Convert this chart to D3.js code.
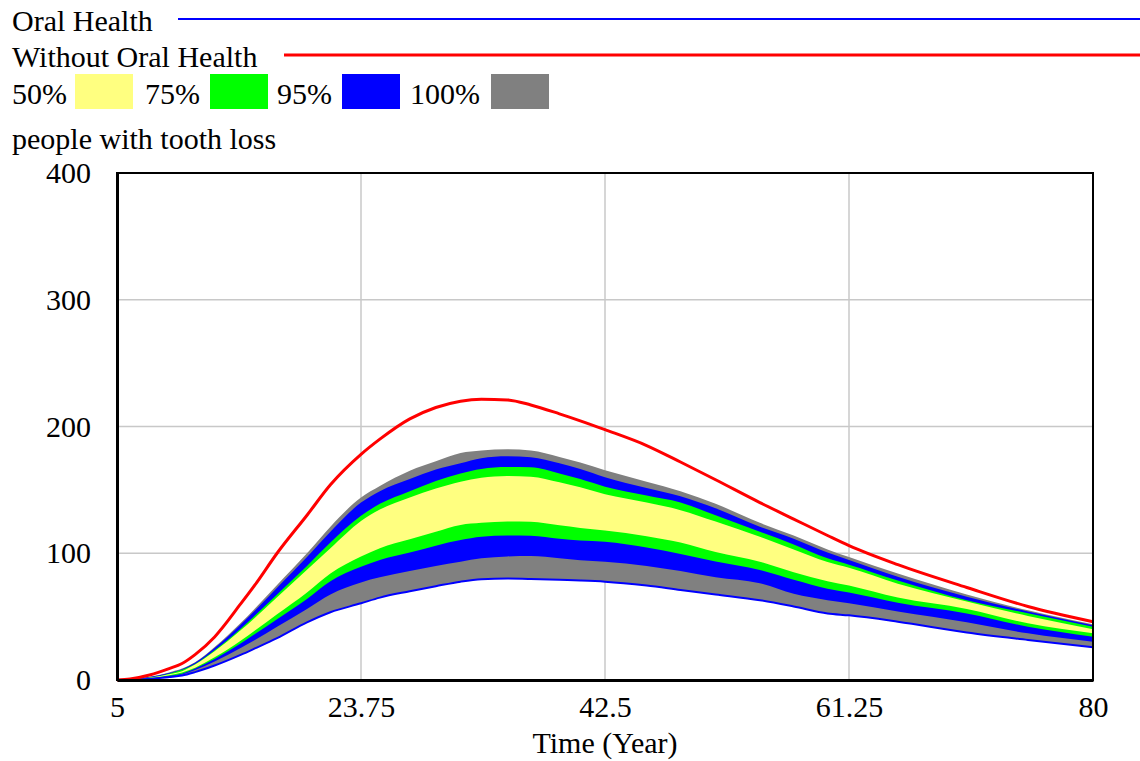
<!DOCTYPE html>
<html>
<head>
<meta charset="utf-8">
<script src="https://cdn.jsdelivr.net/npm/d3@7"></script>
<style>
  body { margin: 0; background: #fff; }
  svg text { fill: #000; }
</style>
</head>
<body>
<div id="vis"></div>
<script>
// data (people with tooth loss)
const YEARS = [5, 6, 7.5, 9, 10, 11, 12.5, 14.5, 15.6, 17.3, 19.6, 21.4, 23.75, 25.2, 27.5, 29.5, 31.4, 33, 35, 36.8,
               39, 40.6, 42.5, 45.7, 48.3, 51, 54.4, 57, 59.6, 61.25, 65, 70.3, 75, 80];

// "Without Oral Health" run
const WITHOUT_ORAL = [0, 0.8, 4, 9, 13, 20, 34, 60, 75, 100, 130, 154, 178, 190, 206, 215, 220, 221.5, 221, 217,
                      210, 204.5, 197.5, 185, 172, 158, 140, 127, 114, 106, 91, 73, 58, 46];

// confidence bounds (hi / lo)
const GRAY_HI = [0, 0.5, 2.5, 6, 9, 14, 26, 45, 56.5, 75, 100, 121, 144, 153, 165, 172.5, 179, 181, 182, 181,
                 176, 171.5, 165.5, 156.5, 149, 139, 124, 114, 103, 97, 84, 67.5, 55, 44];
const BLUE_HI = [0, 0.5, 2.3, 5.5, 8.5, 13.6, 25.2, 43.7, 54.8, 72.8, 97, 117, 140, 149, 158.5, 166, 171, 175, 176.5, 175.7,
                 171, 166.5, 160, 151.5, 145, 135.5, 121, 111.5, 100.5, 94.7, 81.5, 65.7, 54, 43.1];
const GREEN_HI = [0, 0.4, 2, 5, 8, 12.6, 23.4, 40.5, 50.9, 67.5, 90, 108.5, 129.5, 139, 149, 157, 163, 166.5, 168, 167.8,
                  163, 158.5, 152.5, 145.5, 140, 130, 117, 107, 96, 91, 78.5, 63, 52.6, 42];
const YELLOW_HI = [0, 0.3, 1.8, 4.5, 7, 12.2, 22.6, 39.2, 49.2, 65.3, 87, 104, 125.5, 134.5, 144, 151, 156.5, 159.5, 161, 160.4,
                   156, 152, 146.5, 140, 134, 125, 113, 103, 93, 88.5, 76, 62, 50.5, 40];
const YELLOW_LO = [0, 0.3, 1.5, 3.8, 6, 9.7, 17.9, 31, 39, 51.8, 69, 84, 97.4, 104, 111, 117, 122.3, 124, 125, 124.9,
                   122, 120, 118, 113.5, 108.5, 101, 93.3, 85, 78, 74.5, 65, 56, 44.7, 36.8];
const GREEN_LO = [0, 0.3, 1.3, 3.3, 5, 9, 16.6, 28.8, 36.2, 48, 64, 78, 89.4, 94.7, 100.5, 106, 110.4, 113, 114, 113.9,
                  111.5, 110, 109, 104.5, 99.5, 93.5, 86.8, 79, 72, 69, 61, 52.5, 42, 34.2];
const BLUE_LO = [0, 0.2, 1, 2.8, 4.3, 7.8, 14.6, 25.2, 31.6, 42, 56, 67.5, 77, 81, 86, 90, 93.3, 96, 97.5, 97.8,
                 96, 94.5, 93.3, 90, 86, 81, 76.3, 68, 63, 60.5, 54, 45.5, 36.8, 30.2];
// lower edge of the 100% band is the "Oral Health" run
const ORAL = [0, 0.1, 0.8, 2.3, 3.5, 6.2, 11.4, 19.8, 24.9, 33, 45.5, 53.5, 60.5, 65, 70, 74, 77.6, 79.5, 80, 79.7,
              79, 78.5, 77.6, 74.5, 71, 67.5, 63, 58, 52.5, 51, 46, 37.5, 31.6, 25.8];

const X_TICKS = [5, 23.75, 42.5, 61.25, 80];
const Y_TICKS = [0, 100, 200, 300, 400];

const BANDS = [
  {label: "50%", color: "#ffff80", lo: YELLOW_LO, hi: YELLOW_HI},
  {label: "75%", color: "#00ff00", lo: GREEN_LO, hi: GREEN_HI},
  {label: "95%", color: "#0000ff", lo: BLUE_LO, hi: BLUE_HI},
  {label: "100%", color: "#808080", lo: ORAL, hi: GRAY_HI}
];

// frame
const FRAME_WIDTH = 1140;
const FRAME_HEIGHT = 761;
const MARGINS = {left: 117, right: 47, top: 173, bottom: 81};
const VIS_WIDTH = FRAME_WIDTH - MARGINS.left - MARGINS.right;
const VIS_HEIGHT = FRAME_HEIGHT - MARGINS.top - MARGINS.bottom;
const FONT = 30;
const SERIF = "Times New Roman, Liberation Serif, Tinos, DejaVu Serif, serif";

const FRAME = d3.select("#vis")
                .append("svg")
                  .attr("width", FRAME_WIDTH)
                  .attr("height", FRAME_HEIGHT)
                  .attr("font-family", SERIF);

const X_SCALE = d3.scaleLinear().domain([5, 80]).range([MARGINS.left, MARGINS.left + VIS_WIDTH]);
const Y_SCALE = d3.scaleLinear().domain([0, 400]).range([MARGINS.top + VIS_HEIGHT, MARGINS.top]);

function label(x, y, str) {
  return FRAME.append("text").attr("x", x).attr("y", y)
              .attr("font-family", SERIF).attr("font-size", FONT).text(str);
}

// legend: run lines
label(12, 31, "Oral Health");
FRAME.append("line").attr("x1", 178).attr("x2", FRAME_WIDTH).attr("y1", 19).attr("y2", 19)
     .attr("stroke", "#0000ff").attr("stroke-width", 2);
label(12, 67, "Without Oral Health");
FRAME.append("line").attr("x1", 284).attr("x2", FRAME_WIDTH).attr("y1", 55).attr("y2", 55)
     .attr("stroke", "#ff0000").attr("stroke-width", 3);

// legend: bands
const LEG_X = [12, 145, 277, 410];
const BOX_X = [75, 210, 342, 491];
BANDS.forEach((b, i) => {
  label(LEG_X[i], 104, b.label);
  FRAME.append("rect").attr("x", BOX_X[i]).attr("y", 74).attr("width", 58).attr("height", 35)
       .attr("fill", b.color);
});

label(12, 149, "people with tooth loss");

// grid
FRAME.append("g").selectAll("line")
     .data(Y_TICKS.slice(1, -1)).enter().append("line")
       .attr("x1", MARGINS.left).attr("x2", MARGINS.left + VIS_WIDTH)
       .attr("y1", (d) => { return Y_SCALE(d); }).attr("y2", (d) => { return Y_SCALE(d); })
       .attr("stroke", "#c8c8c8").attr("stroke-width", 1.5);
FRAME.append("g").selectAll("line")
     .data(X_TICKS.slice(1, -1)).enter().append("line")
       .attr("y1", MARGINS.top).attr("y2", MARGINS.top + VIS_HEIGHT)
       .attr("x1", (d) => { return X_SCALE(d); }).attr("x2", (d) => { return X_SCALE(d); })
       .attr("stroke", "#c8c8c8").attr("stroke-width", 1.5);

// bands, widest first
const ORDER = [3, 2, 1, 0];
ORDER.forEach((i) => {
  const b = BANDS[i];
  const AREA = d3.area()
                 .x((d, j) => { return X_SCALE(YEARS[j]); })
                 .y0((d, j) => { return Y_SCALE(b.lo[j]); })
                 .y1((d, j) => { return Y_SCALE(b.hi[j]); })
                 .curve(d3.curveMonotoneX);
  FRAME.append("path").datum(YEARS).attr("d", AREA).attr("fill", b.color);
});

// run lines
function runLine(vals, color, w) {
  const LINE = d3.line()
                 .x((d, j) => { return X_SCALE(YEARS[j]); })
                 .y((d) => { return Y_SCALE(d); })
                 .curve(d3.curveMonotoneX);
  FRAME.append("path").datum(vals).attr("d", LINE)
       .attr("fill", "none").attr("stroke", color).attr("stroke-width", w);
}
runLine(ORAL, "#0000ff", 2);
runLine(WITHOUT_ORAL, "#ff0000", 3);

// frame box
FRAME.append("rect").attr("x", MARGINS.left).attr("y", MARGINS.top)
     .attr("width", VIS_WIDTH).attr("height", VIS_HEIGHT)
     .attr("fill", "none").attr("stroke", "#000").attr("stroke-width", 2);

// axes (tick labels only)
const X_AXIS = FRAME.append("g")
     .attr("transform", "translate(0," + (MARGINS.top + VIS_HEIGHT) + ")")
     .call(d3.axisBottom(X_SCALE).tickValues(X_TICKS).tickSize(0).tickPadding(16)
             .tickFormat((d) => { return String(d); }))
     .attr("font-family", SERIF).attr("font-size", FONT);
X_AXIS.select(".domain").attr("stroke", "#000").attr("stroke-width", 3);

const Y_AXIS = FRAME.append("g")
     .attr("transform", "translate(" + MARGINS.left + ",0)")
     .call(d3.axisLeft(Y_SCALE).tickValues(Y_TICKS).tickSize(0).tickPadding(26))
     .attr("font-family", SERIF).attr("font-size", FONT);
Y_AXIS.select(".domain").attr("stroke", "#000").attr("stroke-width", 3);

label(X_SCALE(42.5), 753, "Time (Year)").attr("text-anchor", "middle");
</script>
</body>
</html>
